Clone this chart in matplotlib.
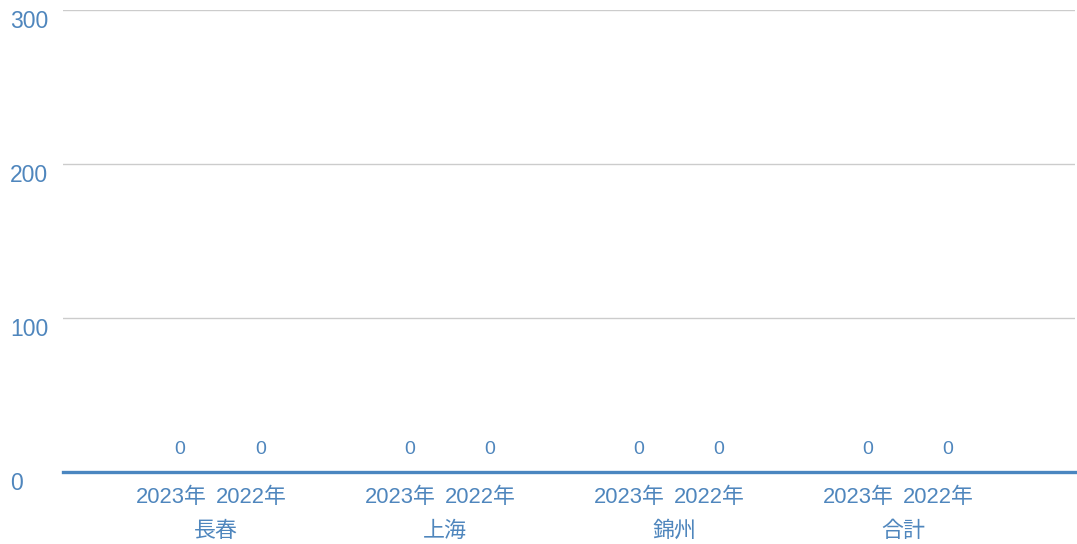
import matplotlib.pyplot as plt
import matplotlib.transforms as mtransforms
import numpy as np

# Data
GROUPS = ['長春', '上海', '錦州', '合計']
YEARS = ['2023年', '2022年']
VALUES_2023 = [0, 0, 0, 0]
VALUES_2022 = [0, 0, 0, 0]
Y_TICKS = [0, 100, 200, 300]

TEXT_COLOR = '#4f86bd'
BAR_COLOR = '#4a86c0'
GRID_COLOR = '#cccccc'

plt.rcParams['font.family'] = ['Liberation Sans', 'Noto Sans CJK JP', 'DejaVu Sans']

fig = plt.figure(figsize=(10.77, 5.44), dpi=100)
ax = fig.add_axes([63 / 1077, 72 / 544, 1012 / 1077, 462 / 544])

group_x = np.arange(len(GROUPS))
offset = 0.175
width = 0.3

bars_a = ax.bar(group_x - offset, VALUES_2023, width, color=BAR_COLOR)
bars_b = ax.bar(group_x + offset, VALUES_2022, width, color=BAR_COLOR)
for bars in (bars_a, bars_b):
    ax.bar_label(bars, labels=[str(v) for v in bars.datavalues],
                 padding=10, color=TEXT_COLOR, fontsize=14)

ax.set_xlim(-0.686, len(GROUPS) - 1 + 0.73)
ax.set_ylim(0, 300)

# Grid and baseline
ax.set_yticks(Y_TICKS)
ax.yaxis.grid(True, color=GRID_COLOR, linewidth=1)
ax.set_axisbelow(True)
ax.axhline(0, color=BAR_COLOR, linewidth=2.4, zorder=3, clip_on=False)
for side in ('top', 'right', 'left', 'bottom'):
    ax.spines[side].set_visible(False)

# Y tick labels: left aligned at the figure edge, shifted slightly down
ax.tick_params(axis='y', length=0, pad=38, labelsize=16.5, labelcolor=TEXT_COLOR)
shift = mtransforms.ScaledTranslation(0, -9 / 100, fig.dpi_scale_trans)
for lbl in ax.get_yticklabels():
    lbl.set_horizontalalignment('left')
    lbl.set_transform(lbl.get_transform() + shift)

# X labels: years (major) and city groups (minor)
sub_x = np.concatenate([group_x - offset, group_x + offset])
sub_labels = [YEARS[0]] * len(GROUPS) + [YEARS[1]] * len(GROUPS)
order = np.argsort(sub_x)
ax.set_xticks(sub_x[order])
ax.set_xticklabels(np.array(sub_labels)[order])
ax.set_xticks(group_x, minor=True)
ax.set_xticklabels(GROUPS, minor=True)
ax.tick_params(axis='x', which='major', length=0, pad=11, labelsize=15.8, labelcolor=TEXT_COLOR)
ax.tick_params(axis='x', which='minor', length=0, pad=35, labelsize=15.8, labelcolor=TEXT_COLOR)

# year labels sit a little left of their bars, group labels slightly left too
year_shift = mtransforms.ScaledTranslation(-9 / 100, 0, fig.dpi_scale_trans)
for lbl in ax.get_xticklabels():
    lbl.set_transform(lbl.get_transform() + year_shift)
group_shift = mtransforms.ScaledTranslation(-4 / 100, 0, fig.dpi_scale_trans)
for lbl in ax.get_xticklabels(minor=True):
    lbl.set_transform(lbl.get_transform() + group_shift)

plt.savefig('out.png', dpi=100)
plt.close()
